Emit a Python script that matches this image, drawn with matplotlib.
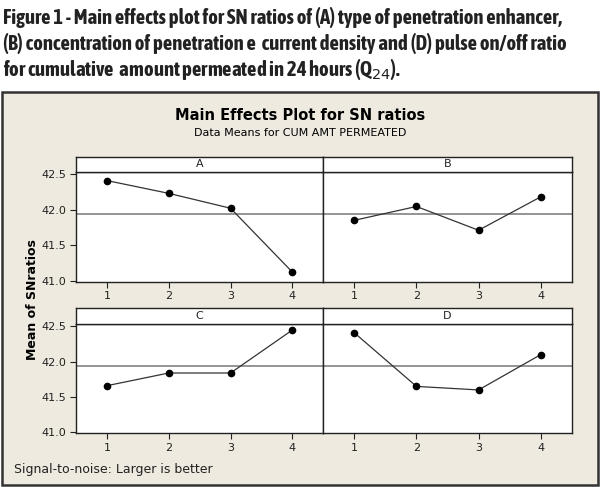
import matplotlib
matplotlib.use("Agg")
import matplotlib.pyplot as plt
from matplotlib.patches import Rectangle
from matplotlib import font_manager as fm

# levels and mean SN ratios
levels = [1, 2, 3, 4]
sn_A = [42.41, 42.23, 42.02, 41.12]
sn_B = [41.85, 42.045, 41.71, 42.18]
sn_C = [41.66, 41.84, 41.84, 42.45]
sn_D = [42.41, 41.65, 41.60, 42.10]
grand_mean = 41.945
yticks = [41.0, 41.5, 42.0, 42.5]
panel_names = ["A", "B", "C", "D"]

W, H = 600, 487
bg = "#EEEAE0"

fig = plt.figure(figsize=(W / 100, H / 100), dpi=100, facecolor="white")

def box(x0, y0, x1, y1):
    # pixel box (top-left origin) -> figure fraction rect
    return [x0 / W, 1 - y1 / H, (x1 - x0) / W, (y1 - y0) / H]

def is_bold(f):
    w = f.weight
    return (w >= 600) if isinstance(w, int) else w in ("bold", "heavy", "black", "semibold", "demibold")

# look for a narrow bold font for the caption, fall back to Liberation Sans
narrow = [f for f in fm.fontManager.ttflist if "Narrow" in f.name or "Condensed" in f.name]
narrow_bold = [f for f in narrow if is_bold(f)]
if narrow_bold:
    cap_kw = dict(family=[narrow_bold[0].name, "DejaVu Sans"], fontweight="bold")
elif narrow:
    cap_kw = dict(family=[narrow[0].name, "DejaVu Sans"], fontweight="bold")
else:
    cap_kw = dict(family=["Liberation Sans", "DejaVu Sans"], fontweight="bold")

caption = ["Figure 1 - Main effects plot for SN ratios of (A) type of penetration enhancer,",
           "(B) concentration of penetration e  current density and (D) pulse on/off ratio",
           r"for cumulative  amount permeated in 24 hours (Q$_{24}$)."]
cap_texts = []
for i, line in enumerate(caption):
    t = fig.text(3 / W, 1 - (17 + 26.5 * i) / H, line,
                 fontsize=13.5, va="center", ha="left", color="#222222", **cap_kw)
    cap_texts.append(t)

# size caption so the first line spans the same width as in the picture
rend = fig.canvas.get_renderer()
wpx = cap_texts[0].get_window_extent(rend).width
size = min(15.5, 13.5 * 562 / wpx)
for t in cap_texts:
    t.set_fontsize(size)

# beige minitab frame
frame = Rectangle((2 / W, 1 - 485 / H), 596 / W, 393 / H, transform=fig.transFigure,
                  facecolor=bg, edgecolor="#333333", lw=1.8, zorder=-5)
fig.patches.append(frame)

fig.text(0.5, 1 - 116 / H, "Main Effects Plot for SN ratios", ha="center", va="center",
         fontsize=10.5, fontweight="bold")
fig.text(0.5, 1 - 133 / H, "Data Means for CUM AMT PERMEATED", ha="center", va="center",
         fontsize=8)

cols = [(76, 323.3), (323.3, 571.7)]
rows = [(156.7, 171.7, 281.7), (308.3, 324, 433.3)]
series = [sn_A, sn_B, sn_C, sn_D]

for k in range(4):
    r, c = divmod(k, 2)
    x0, x1 = cols[c]
    top, strip_bot, bot = rows[r]
    ax = fig.add_axes(box(x0, strip_bot, x1, bot))
    ax.set_facecolor("white")
    ax.axhline(grand_mean, color="#777777", lw=1.1, zorder=1)
    ax.plot(levels, series[k], color="#333333", lw=0.9, marker="o", ms=4.5,
            mfc="black", mec="black", zorder=3)
    ax.set_xlim(0.5, 4.5)
    ax.set_ylim(40.985, 42.535)
    ax.set_xticks(levels)
    ax.tick_params(axis="both", direction="out", length=4, width=0.8, labelsize=8,
                   color="#222222", labelcolor="#222222", pad=3)
    if c == 0:
        ax.set_yticks(yticks)
        ax.set_yticklabels(["%.1f" % v for v in yticks])
    else:
        ax.set_yticks([])
    for s in ax.spines.values():
        s.set_color("#222222")
        s.set_linewidth(1.0)

    st = fig.add_axes(box(x0, top, x1, strip_bot))
    st.set_facecolor("white")
    st.set_xticks([])
    st.set_yticks([])
    for s in st.spines.values():
        s.set_color("#222222")
        s.set_linewidth(1.0)
    st.text(0.5, 0.5, panel_names[k], ha="center", va="center", fontsize=8,
            transform=st.transAxes, color="#222222")

fig.text(33 / W, 1 - 300 / H, "Mean of SNratios", rotation=90, ha="center", va="center",
         fontsize=9, fontweight="bold")
fig.text(14 / W, 1 - 470 / H, "Signal-to-noise: Larger is better", ha="left", va="center",
         fontsize=9, color="#222222")

fig.savefig("out.png", dpi=100, facecolor="white")
